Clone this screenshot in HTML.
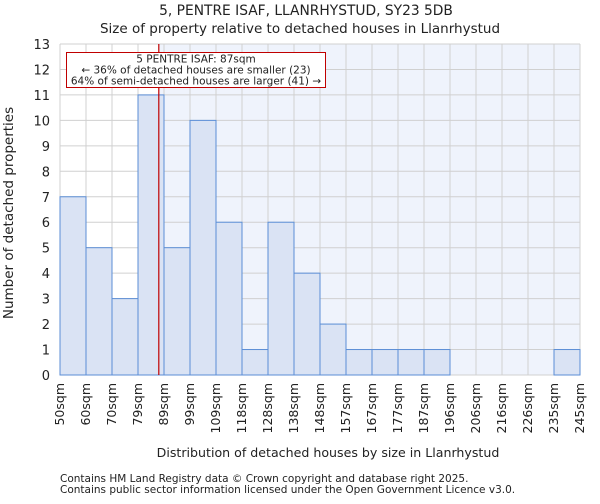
<!DOCTYPE html>
<html><head><meta charset="utf-8"><style>
body{margin:0;background:#fff;font-family:"DejaVu Sans","Liberation Sans",sans-serif}
svg text{font-family:"DejaVu Sans","Liberation Sans",sans-serif;fill:#222}
</style></head><body>
<svg id="chart" width="600" height="500">
<text x="306" y="15" text-anchor="middle" font-size="13.8">5, PENTRE ISAF, LLANRHYSTUD, SY23 5DB</text>
<text x="300" y="33" text-anchor="middle" font-size="13.5">Size of property relative to detached houses in Llanrhystud</text>
<g id="plot"></g>
<text x="328" y="457" text-anchor="middle" font-size="12.6">Distribution of detached houses by size in Llanrhystud</text>
<text transform="translate(13,213) rotate(-90)" text-anchor="middle" font-size="13.5">Number of detached properties</text>
<text x="60" y="482" font-size="10.5">Contains HM Land Registry data © Crown copyright and database right 2025.</text>
<text x="60" y="493" font-size="10.5">Contains public sector information licensed under the Open Government Licence v3.0.</text>
</svg>
<script>
const binLabels=["50sqm","60sqm","70sqm","79sqm","89sqm","99sqm","109sqm","118sqm","128sqm","138sqm","148sqm","157sqm","167sqm","177sqm","187sqm","196sqm","206sqm","216sqm","226sqm","235sqm","245sqm"];
const counts=[7,5,3,11,5,10,6,1,6,4,2,1,1,1,1,0,0,0,0,1];
const yTicks=[0,1,2,3,4,5,6,7,8,9,10,11,12,13];
const markerBin=3.8;
const L=60,R=580,T=44,B=375,yMax=13;
const ns="http://www.w3.org/2000/svg";
const g=document.getElementById('plot');
const bw=(R-L)/counts.length;
const xs=i=>L+i*bw;
const ys=v=>B-(B-T)*v/yMax;
function mk(t,a,p){const e=document.createElementNS(ns,t);for(const k in a)e.setAttribute(k,a[k]);(p||g).appendChild(e);return e;}
const mx=xs(markerBin);
const bg=mk('rect',{x:mx,y:T,width:R-mx,height:B-T,fill:'#eff3fc'});


for(let i=0;i<=counts.length;i++){const l=mk('line',{x1:xs(i),x2:xs(i),y1:T,y2:B,stroke:'#d0d0d0','stroke-width':1});

}
yTicks.forEach(v=>{const l=mk('line',{x1:L,x2:R,y1:ys(v),y2:ys(v),stroke:'#d0d0d0','stroke-width':1});


const t=mk('text',{x:L-10,y:ys(v)+5,'text-anchor':'end','font-size':13});t.textContent=v;

});
counts.forEach((c,i)=>{if(c<=0)return;const r=mk('rect',{x:xs(i),y:ys(c),width:bw,height:ys(0)-ys(c),fill:'#dae3f4',stroke:'#5b8ed6','stroke-width':1});

});
binLabels.forEach((s,i)=>{const x=xs(i)+4;const t=mk('text',{transform:`translate(${x},${B+8}) rotate(-90)`,'text-anchor':'end','font-size':12.5});t.textContent=s;

});
const ml=mk('line',{x1:mx,x2:mx,y1:T,y2:B,stroke:'#c00000','stroke-width':1.2});


const box=mk('rect',{x:66.5,y:52.5,width:259,height:35,fill:'#fff',stroke:'#c00000','stroke-width':1});


["5 PENTRE ISAF: 87sqm","← 36% of detached houses are smaller (23)","64% of semi-detached houses are larger (41) →"].forEach((s,i)=>{const t=mk('text',{x:196,y:62.5+i*11,'text-anchor':'middle','font-size':10.5});t.textContent=s;

});
</script>
</body></html>
